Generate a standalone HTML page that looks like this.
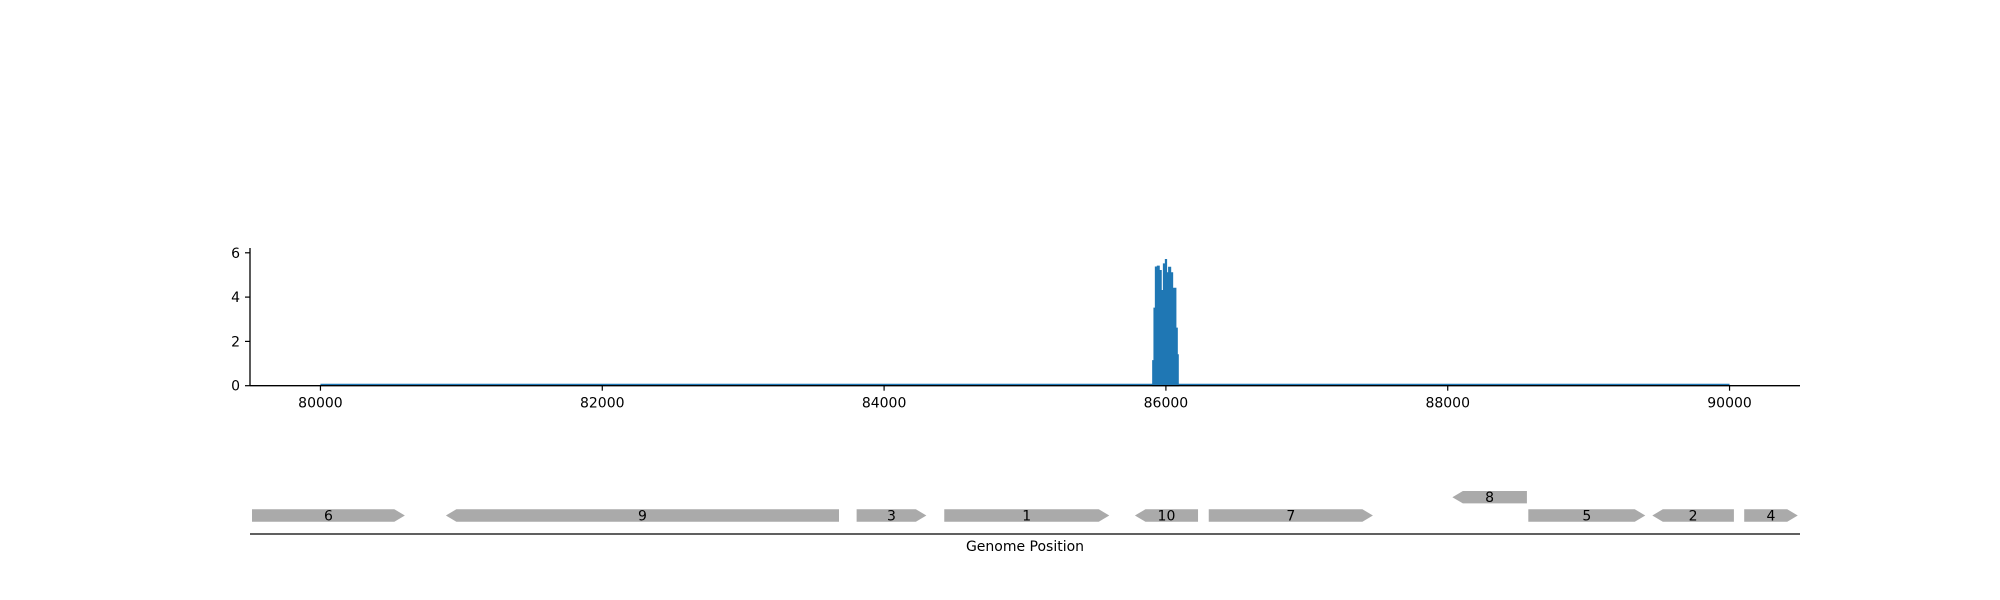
<!DOCTYPE html>
<html><head><meta charset="utf-8"><style>
html,body{margin:0;padding:0;background:#fff;}
svg{display:block;font-family:"DejaVu Sans","Liberation Sans",sans-serif;}
</style></head><body>
<svg id="chart" width="2000" height="600" viewBox="0 0 2000 600"></svg>
<script>
const positions=[85906,85915,85925,85939,85953,85967,85982,85996,86005,86019,86034,86048,86062,86071,86081,86088];
const coverage=[1.13,3.5,5.36,5.4,5.2,4.3,5.5,5.7,5.1,5.35,5.1,4.4,4.4,2.6,1.4,0];
const xTicks=[80000,82000,84000,86000,88000,90000];
const yTicks=[0,2,4,6];
const geneNames=["6","9","3","1","10","7","8","5","2","4"];
const geneStarts=[79510,80890,83805,84427,85780,86304,88033,88572,89452,90104];
const geneEnds=[80599,83680,84300,85598,86228,87469,88562,89402,90031,90484];
const geneStrands=[1,-1,1,1,-1,1,-1,1,-1,1];
const geneRows=[0,0,0,0,0,0,1,0,0,0];

const NS="http://www.w3.org/2000/svg";
const svg=document.getElementById('chart');
const X0=79500,X1=90500,PL=250,PR=1800;
const sx=v=>PL+(v-X0)/(X1-X0)*(PR-PL);
const Y0=385.7,YS=22.15;
const sy=v=>Y0-v*YS;
function el(t,a){const e=document.createElementNS(NS,t);for(const k in a)e.setAttribute(k,a[k]);svg.appendChild(e);return e;}

let bl=el('line',{x1:sx(80000),x2:sx(90000),y1:sy(0)-1,y2:sy(0)-1,stroke:'#1f77b4','stroke-width':2});


let d='M'+sx(positions[0])+','+sy(0);
for(let i=0;i<positions.length;i++){
  const xa=sx(positions[i]);const xb=i<positions.length-1?sx(positions[i+1]):xa;
  d+=' L'+xa+','+sy(coverage[i])+' L'+xb+','+sy(coverage[i]);
}
d+=' L'+sx(positions[positions.length-1])+','+sy(0)+' Z';
let ar=el('path',{d:d,fill:'#1f77b4',stroke:'#1f77b4','stroke-width':1});



let ya=el('line',{x1:PL,x2:PL,y1:248,y2:Y0,stroke:'#000','stroke-width':1.3});


let xa=el('line',{x1:PL,x2:PR,y1:Y0,y2:Y0,stroke:'#000','stroke-width':1.3});


yTicks.forEach(v=>{
  el('line',{x1:PL-5,x2:PL,y1:sy(v),y2:sy(v),stroke:'#000','stroke-width':1.2});
  const t=el('text',{x:PL-10,y:sy(v)+5,'text-anchor':'end','font-size':14});
  t.textContent=v;
  
  
});
xTicks.forEach(v=>{
  el('line',{x1:sx(v),x2:sx(v),y1:Y0,y2:Y0+5,stroke:'#000','stroke-width':1.2});
  const t=el('text',{x:sx(v),y:Y0+22,'text-anchor':'middle','font-size':14});
  t.textContent=v;
  
  
});

for(let i=0;i<geneNames.length;i++){
  const a=Math.max(sx(geneStarts[i]),252),b=sx(geneEnds[i]);
  const top=geneRows[i]?491:509.3,bot=top+12.4,mid=(top+bot)/2,h=10.5;
  let p;
  if(geneStrands[i]>0) p=`${a},${top} ${b-h},${top} ${b},${mid} ${b-h},${bot} ${a},${bot}`;
  else p=`${a},${mid} ${a+h},${top} ${b},${top} ${b},${bot} ${a+h},${bot}`;
  const g=el('polygon',{points:p,fill:'#aaaaaa'});
  
  
  const t=el('text',{x:(a+b)/2,y:mid+5,'text-anchor':'middle','font-size':14});
  t.textContent=geneNames[i];
  
  
}
let ga=el('line',{x1:PL,x2:PR,y1:534,y2:534,stroke:'#000','stroke-width':1.3});


let xt=el('text',{x:1025,y:551,'text-anchor':'middle','font-size':14});
xt.textContent='Genome Position';


</script>
</body></html>
